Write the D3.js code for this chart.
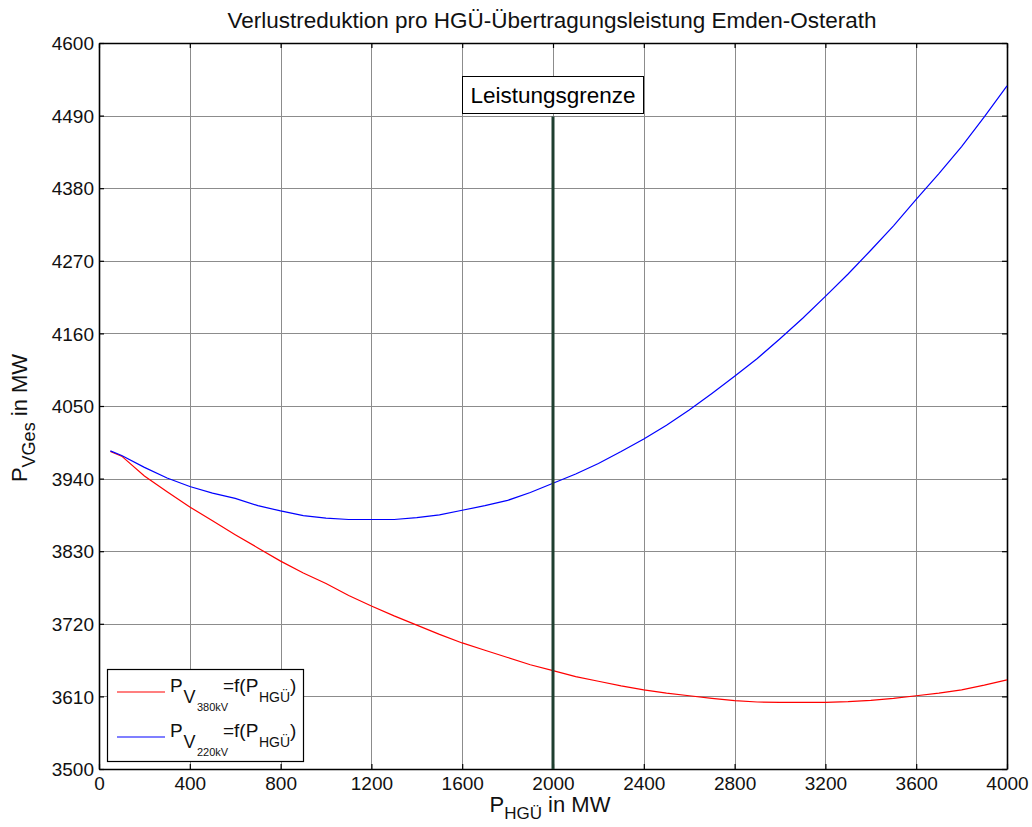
<!DOCTYPE html>
<html>
<head>
<meta charset="utf-8">
<script src="https://cdn.jsdelivr.net/npm/d3@7"></script>
<style>
  body { margin: 0; background: #fff; }
  svg { display: block; font-family: "Liberation Sans", Arial, sans-serif; }
</style>
</head>
<body>
<svg id="chart" width="1032" height="827"></svg>
<script>
// Transmitted HVDC power (MW)
const powerMW = [50, 100, 200, 300, 400, 500, 600, 700, 800, 900, 1000, 1100, 1200, 1300, 1400, 1500,
  1600, 1700, 1800, 1900, 2000, 2100, 2200, 2300, 2400, 2500, 2600, 2700, 2800, 2900, 3000,
  3100, 3200, 3300, 3400, 3500, 3600, 3700, 3800, 3900, 4000];

// Total grid losses with 380 kV connection (MW)
const loss380 = [3981, 3974, 3944, 3920, 3897, 3876, 3855, 3835, 3815, 3797, 3781, 3763, 3747, 3732, 3718, 3704,
  3691, 3680, 3669, 3658, 3649, 3640, 3633, 3626, 3620, 3615, 3611, 3607, 3603.5, 3601.5, 3601,
  3601, 3601, 3602, 3604, 3607, 3611, 3615, 3620, 3627, 3635];

// Total grid losses with 220 kV connection (MW)
const loss220 = [3982, 3975, 3957, 3941, 3928, 3918, 3910, 3899, 3891, 3884, 3880, 3878, 3878, 3878, 3881, 3885,
  3892, 3899, 3907, 3919, 3933, 3947, 3963, 3981, 4000, 4021, 4044, 4069, 4095, 4122, 4152,
  4183, 4216, 4250, 4286, 4323, 4363, 4402, 4443, 4488, 4535];

const xTicks = [0, 400, 800, 1200, 1600, 2000, 2400, 2800, 3200, 3600, 4000];
const yTicks = [3500, 3610, 3720, 3830, 3940, 4050, 4160, 4270, 4380, 4490, 4600];

const limitX = 2000;
const limitTop = 4490;
const limitLabel = "Leistungsgrenze";
const titleText = "Verlustreduktion pro HGÜ-Übertragungsleistung Emden-Osterath";

const margin = { left: 99, right: 25, top: 43, bottom: 58 };
const W = 1032, H = 827;
const svg = d3.select("#chart");
const FONT = "'Liberation Sans', Arial, sans-serif";

const x = d3.scaleLinear().domain([0, 4000]).range([margin.left, W - margin.right]);
const y = d3.scaleLinear().domain([3500, 4600]).range([H - margin.bottom, margin.top]);

// grid
const grid = svg.append("g").attr("stroke", "#8c8c8c").attr("stroke-width", 1);
grid.selectAll(".gx").data(xTicks.slice(1, -1)).join("line")
  .attr("x1", d => Math.round(x(d)) + 0.5).attr("x2", d => Math.round(x(d)) + 0.5)
  .attr("y1", y(3500)).attr("y2", y(4600));
grid.selectAll(".gy").data(yTicks.slice(1, -1)).join("line")
  .attr("y1", d => Math.round(y(d)) + 0.5).attr("y2", d => Math.round(y(d)) + 0.5)
  .attr("x1", x(0)).attr("x2", x(4000));

// axes with inward ticks
const tickSize = 5;
const fmt = d3.format("d");
const axB = svg.append("g").attr("transform", `translate(0,${y(3500)})`)
  .call(d3.axisBottom(x).tickValues(xTicks).tickFormat(fmt).tickSizeInner(-tickSize).tickSizeOuter(0));
const axT = svg.append("g").attr("transform", `translate(0,${y(4600)})`)
  .call(d3.axisTop(x).tickValues(xTicks).tickSizeInner(-tickSize).tickSizeOuter(0).tickFormat(""));
const axL = svg.append("g").attr("transform", `translate(${x(0)},0)`)
  .call(d3.axisLeft(y).tickValues(yTicks).tickFormat(fmt).tickSizeInner(-tickSize).tickSizeOuter(0).tickPadding(5));
const axR = svg.append("g").attr("transform", `translate(${x(4000)},0)`)
  .call(d3.axisRight(y).tickValues(yTicks).tickSizeInner(-tickSize).tickSizeOuter(0).tickFormat(""));
[axB, axT, axL, axR].forEach(a => {
  a.select(".domain").attr("stroke", "#000").attr("stroke-width", 1.6);
  a.selectAll(".tick line").attr("stroke", "#000").attr("stroke-width", 1.2);
  a.selectAll(".tick text").attr("fill", "#111").style("font-size", "19px").style("font-family", FONT);
});
axB.selectAll(".tick text").attr("y", 7.5).attr("dy", "0.71em");
axL.selectAll(".tick text").attr("dy", "0.35em");

// curves
const line = d3.line().x((d, i) => x(powerMW[i])).y(d => y(d));
svg.append("path").datum(loss380).attr("d", line)
  .attr("fill", "none").attr("stroke", "#ff0000").attr("stroke-width", 1.2);
svg.append("path").datum(loss220).attr("d", line)
  .attr("fill", "none").attr("stroke", "#0000ff").attr("stroke-width", 1.2);

// power limit marker
svg.append("line")
  .attr("x1", x(limitX)).attr("x2", x(limitX))
  .attr("y1", y(3500)).attr("y2", y(limitTop) + 1)
  .attr("stroke", "#1f3f30").attr("stroke-width", 3);
const lbl = svg.append("g");
lbl.append("rect")
  .attr("x", 462.5).attr("y", 76.5)
  .attr("width", 181).attr("height", 37)
  .attr("fill", "#fff").attr("stroke", "#000").attr("stroke-width", 1);
lbl.append("text")
  .attr("x", x(limitX)).attr("y", 103)
  .attr("text-anchor", "middle")
  .style("font-size", "22.5px").attr("fill", "#000")
  .text(limitLabel);

// title
svg.append("text").attr("x", 552).attr("y", 28).attr("text-anchor", "middle")
  .style("font-size", "22.5px").attr("fill", "#111").text(titleText);

// axis labels
const xl = svg.append("text").attr("x", 550).attr("y", 812).attr("text-anchor", "middle")
  .style("font-size", "22px").attr("fill", "#111");
xl.append("tspan").text("P");
xl.append("tspan").attr("dy", 7).style("font-size", "17px").text("HGÜ");
xl.append("tspan").attr("dy", -7).text(" in MW");

const yl = svg.append("text").attr("transform", "translate(27,418) rotate(-90)")
  .attr("text-anchor", "middle").style("font-size", "22px").attr("fill", "#111");
yl.append("tspan").text("P");
yl.append("tspan").attr("dy", 8).style("font-size", "18px").text("VGes");
yl.append("tspan").attr("dy", -8).text(" in MW");

// legend
const leg = svg.append("g");
leg.append("rect").attr("x", 107.5).attr("y", 669.5).attr("width", 196).attr("height", 92)
  .attr("fill", "#fff").attr("stroke", "#000").attr("stroke-width", 1.2);
const legItems = [
  { color: "#ff0000", sub: "380kV", yPos: 692 },
  { color: "#0000ff", sub: "220kV", yPos: 737 }
];
legItems.forEach(it => {
  leg.append("line").attr("x1", 117).attr("x2", 165).attr("y1", it.yPos).attr("y2", it.yPos)
    .attr("stroke", it.color).attr("stroke-width", 1.2);
  const g = leg.append("g").attr("fill", "#111");
  g.append("text").attr("x", 170).attr("y", it.yPos).style("font-size", "19px").text("P");
  g.append("text").attr("x", 183.5).attr("y", it.yPos + 11).style("font-size", "18px").text("V");
  g.append("text").attr("x", 197).attr("y", it.yPos + 19).style("font-size", "11px").text(it.sub);
  g.append("text").attr("x", 223).attr("y", it.yPos).style("font-size", "19px").text("=f(P");
  g.append("text").attr("x", 259).attr("y", it.yPos + 10).style("font-size", "14px").text("HGÜ");
  g.append("text").attr("x", 290).attr("y", it.yPos).style("font-size", "19px").text(")");
});
</script>
</body>
</html>
